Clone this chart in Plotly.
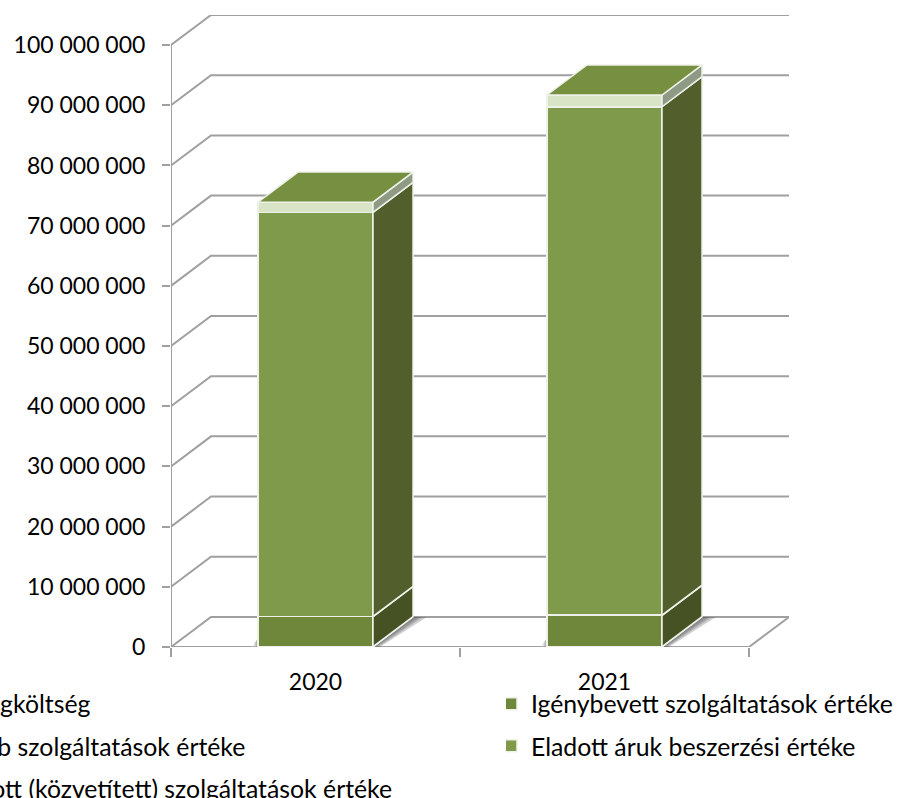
import plotly.graph_objects as go

YEARS = [0, 1]
YEAR_LABELS = ["2020", "2021"]
SERIES = [
    ("Anyagköltség", [50000, 50000]),
    ("Igénybevett szolgáltatások értéke", [5000000, 5200000]),
    ("Egyéb szolgáltatások értéke", [50000, 50000]),
    ("Eladott áruk beszerzési értéke", [67100000, 84450000]),
    ("Eladott (közvetített) szolgáltatások értéke", [1700000, 1950000]),
]
FRONT = ["#4F6228", "#6F873B", "#C3D69B", "#809A4B", "#D8E4C5"]
SIDE = ["#3F4E20", "#465224", "#8F9A85", "#525F2D", "#8F9A85"]
TOP_FACE = "#778F41"
LEGEND_OF = ["legend", "legend2", "legend", "legend2", "legend"]
TICKS = list(range(0, 110000000, 10000000))
TICK_TEXT = ["0", "10 000 000", "20 000 000", "30 000 000", "40 000 000", "50 000 000",
             "60 000 000", "70 000 000", "80 000 000", "90 000 000", "100 000 000"]
SHADOW_WIDTHS = [14, 10, 7, 4]

BAR_W = 0.398
DX = 40 / 289
DY = 30 / 6.01e-6
XMIN, XMAX = -0.5, 1.5
YTOP = 100000000 + DY
GRID = "#A0A0A0"
EDGE = "#EEF1E8"
FONT = "Lato"
AXIS_SIZE = 23
LEG_SIZE = 24.8

fig = go.Figure()

gx, gy = [], []
for v in TICKS:
    gx += [XMIN, XMIN + DX, XMAX + DX, None]
    gy += [v, v + DY, v + DY, None]
gx += [XMAX + DX, XMAX, None]
gy += [DY, 0, None]
fig.add_trace(go.Scatter(x=gx, y=gy, mode="lines", line=dict(color=GRID, width=2),
                         showlegend=False, hoverinfo="skip", cliponaxis=False))
fig.add_trace(go.Scatter(x=[XMIN, XMIN, None, XMIN, XMAX], y=[100000000, 0, None, 0, 0],
                         mode="lines", line=dict(color=GRID, width=2),
                         showlegend=False, hoverinfo="skip", cliponaxis=False))
for c in YEARS:
    xr = c + BAR_W / 2
    xl = c - BAR_W / 2
    for w in SHADOW_WIDTHS:
        u = w / 289
        fig.add_trace(go.Scatter(
            x=[xr, xr + DX, xr + DX + u, xr + u * 0.5, xr],
            y=[0, DY, DY, 0, 0], mode="lines", fill="toself",
            fillcolor="rgba(90,90,90,0.28)", line=dict(width=0),
            showlegend=False, hoverinfo="skip"))
    fig.add_trace(go.Scatter(
        x=[xl - 7 / 289, xl, xl, xl - 7 / 289], y=[0, DY * 0.28, 0, 0], mode="lines",
        fill="toself", line=dict(width=0),
        fillgradient=dict(type="horizontal", start=xl - 7 / 289, stop=xl,
                          colorscale=[[0, "rgba(255,255,255,0)"], [1, "rgba(120,120,120,0.9)"]]),
        showlegend=False, hoverinfo="skip"))

for (name, vals), col, leg in zip(SERIES, FRONT, LEGEND_OF):
    fig.add_trace(go.Bar(x=YEARS, y=vals, name=name, width=BAR_W, xaxis="x2", yaxis="y2",
                         marker=dict(color=col, line=dict(color=EDGE, width=1.5)),
                         legend=leg, legendgroup=name))

for i, c in enumerate(YEARS):
    base = 0
    xr = c + BAR_W / 2
    xl = c - BAR_W / 2
    for (name, vals), col in zip(SERIES, SIDE):
        t = base + vals[i]
        fig.add_trace(go.Scatter(
            x=[xr, xr + DX, xr + DX, xr, xr], y=[base, base + DY, t + DY, t, base],
            mode="lines", fill="toself", fillcolor=col, line=dict(color=EDGE, width=1.5),
            xaxis="x2", yaxis="y2", showlegend=False, hoverinfo="skip", cliponaxis=False))
        base = t
    fig.add_trace(go.Scatter(
        x=[xl, xl + DX, xr + DX, xr, xl], y=[base, base + DY, base + DY, base, base],
        mode="lines", fill="toself", fillcolor=TOP_FACE, line=dict(color=EDGE, width=1.5),
        xaxis="x2", yaxis="y2", showlegend=False, hoverinfo="skip", cliponaxis=False))

xdom = [171 / 900, 789 / 900]
ydom = [(798 - 647) / 798, (798 - 15) / 798]
legend_style = dict(y=0.1466, yanchor="top", xanchor="left", orientation="v",
                    font=dict(size=LEG_SIZE, family=FONT), bgcolor="rgba(0,0,0,0)",
                    traceorder="grouped", tracegroupgap=7, indentation=-15)
fig.update_layout(
    width=900, height=798, autosize=False,
    margin=dict(l=0, r=0, t=0, b=0, autoexpand=False),
    plot_bgcolor="white", paper_bgcolor="white",
    barmode="stack", font=dict(family=FONT, color="black", size=AXIS_SIZE),
    xaxis=dict(domain=xdom, range=[XMIN, XMAX + DX], showgrid=False, zeroline=False, showline=False,
               tickmode="array", tickvals=YEARS, ticktext=YEAR_LABELS, ticks="",
               ticklabelstandoff=19, tickfont=dict(size=AXIS_SIZE),
               minor=dict(tickmode="array", tickvals=[-0.5, 0.5, 1.5], ticks="outside", ticklen=9,
                          tickwidth=2, tickcolor=GRID, showgrid=False)),
    yaxis=dict(domain=ydom, range=[0, YTOP], showgrid=False, zeroline=False, showline=False,
               tickmode="array", tickvals=TICKS, ticktext=TICK_TEXT, ticks="outside", ticklen=8,
               tickwidth=2, tickcolor=GRID, ticklabelstandoff=12, tickfont=dict(size=AXIS_SIZE)),
    xaxis2=dict(domain=xdom, range=[XMIN, XMAX + DX], overlaying="x", visible=False, anchor="y2"),
    yaxis2=dict(domain=ydom, range=[0, YTOP], overlaying="y", visible=False, anchor="x2"),
    legend=dict(x=-0.0889, **legend_style),
    legend2=dict(x=0.5622, **legend_style),
    showlegend=True,
)
fig.write_html("out.html", post_script="document.body.style.margin='0';",
               config=dict(displayModeBar=False))
